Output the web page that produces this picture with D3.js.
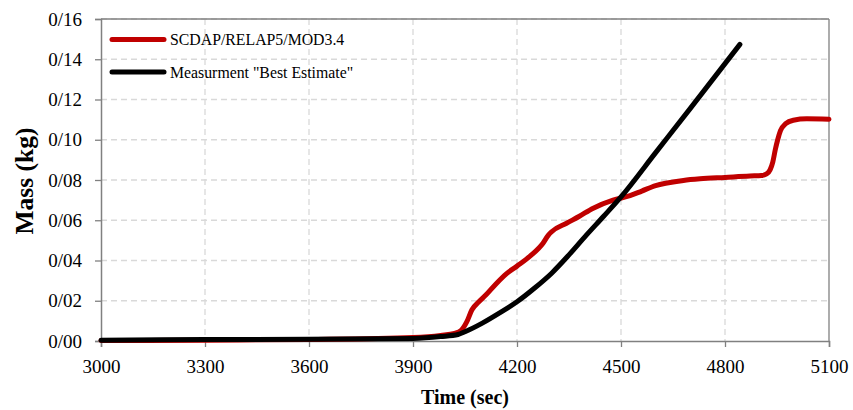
<!DOCTYPE html>
<html><head><meta charset="utf-8">
<script src="https://cdn.jsdelivr.net/npm/d3@7"></script>
<style>body{margin:0;background:#fff}svg{display:block}</style>
</head><body>
<svg id="c" width="853" height="410"></svg>
<script>
const xTicks = [3000, 3300, 3600, 3900, 4200, 4500, 4800, 5100];
const yTicks = [0, 0.02, 0.04, 0.06, 0.08, 0.10, 0.12, 0.14, 0.16];
const seriesNames = ["SCDAP/RELAP5/MOD3.4", "Measurment \"Best Estimate\""];
const seriesColors = ["#c00000", "#000000"];
const redTime = [3000, 3300, 3600, 3900, 3980, 4020, 4040, 4055, 4070, 4090, 4110, 4140, 4170, 4200, 4240, 4275, 4290, 4300, 4343, 4380, 4420, 4477, 4526, 4560, 4600, 4633, 4680, 4728, 4800, 4872, 4905, 4920, 4930, 4938, 4945, 4952, 4960, 4975, 4997, 5036, 5100];
const redMass = [0.0002, 0.0004, 0.0008, 0.0018, 0.0028, 0.0038, 0.0055, 0.0095, 0.0155, 0.0195, 0.0228, 0.0285, 0.0335, 0.0372, 0.0425, 0.0486, 0.0525, 0.0543, 0.0585, 0.0620, 0.0660, 0.0700, 0.0722, 0.0745, 0.0772, 0.0785, 0.0798, 0.0806, 0.0813, 0.0820, 0.0822, 0.0830, 0.0850, 0.0890, 0.0950, 0.1000, 0.1045, 0.1080, 0.1097, 0.1104, 0.1102];
const blackTime = [3000, 3300, 3600, 3900, 3980, 4030, 4050, 4100, 4150, 4200, 4250, 4300, 4350, 4400, 4450, 4500, 4600, 4700, 4843];
const blackMass = [0.0004, 0.0007, 0.0009, 0.0013, 0.0022, 0.0032, 0.0046, 0.0089, 0.0140, 0.0195, 0.0262, 0.0337, 0.0428, 0.0526, 0.0620, 0.0716, 0.0936, 0.1156, 0.1474];

const svg = d3.select("#c");
const L = 101, R = 829, T = 19, B = 341;
const x = d3.scaleLinear().domain([3000, 5100]).range([L, R]);
const y = d3.scaleLinear().domain([0, 0.16]).range([B, T]);
const font = "'Liberation Serif','Times New Roman',serif";
const fmt = d => d3.format(".2f")(d).replace(".", "/");

// grid
const g = svg.append("g");
g.selectAll(".gy").data(yTicks.slice(1)).join("line")
  .attr("x1", L).attr("x2", R).attr("y1", d => y(d)).attr("y2", d => y(d))
  .attr("stroke", "#d9d9d9").attr("stroke-width", 1.3).attr("stroke-dasharray", "6,4");
g.selectAll(".gx").data(xTicks.slice(1, -1)).join("line")
  .attr("y1", T).attr("y2", B).attr("x1", d => x(d)).attr("x2", d => x(d))
  .attr("stroke", "#d9d9d9").attr("stroke-width", 1.3).attr("stroke-dasharray", "6,4");
// border top/right
svg.append("line").attr("x1", L).attr("x2", R).attr("y1", T).attr("y2", T).attr("stroke", "#808080").attr("stroke-width", 1.3);
svg.append("line").attr("x1", R).attr("x2", R).attr("y1", T).attr("y2", B).attr("stroke", "#808080").attr("stroke-width", 1.3);

// axes
const xa = svg.append("g").attr("transform", `translate(0,${B})`)
  .call(d3.axisBottom(x).tickValues(xTicks).tickSize(6).tickPadding(10).tickFormat(d3.format("d")));
const ya = svg.append("g").attr("transform", `translate(${L},0)`)
  .call(d3.axisLeft(y).tickValues(yTicks).tickSize(6).tickPadding(13).tickFormat(fmt));
[xa, ya].forEach(a => {
  a.select(".domain").attr("stroke", "#808080").attr("stroke-width", 1.5);
  a.selectAll(".tick line").attr("stroke", "#808080").attr("stroke-width", 1.3);
  a.selectAll("text").attr("font-family", font).attr("font-size", 19).attr("fill", "#000");
});
xa.selectAll("text").attr("dy", "0.85em");

// lines
const line = d3.line().x(d => x(d[0])).y(d => y(d[1])).curve(d3.curveMonotoneX);
const redData = redTime.map((t, i) => [t, redMass[i]]);
const blackData = blackTime.map((t, i) => [t, blackMass[i]]);
svg.append("path").datum(redData).attr("d", line).attr("fill", "none")
  .attr("stroke", seriesColors[0]).attr("stroke-width", 5).attr("stroke-linecap", "round").attr("stroke-linejoin", "round");
svg.append("path").datum(blackData).attr("d", line).attr("fill", "none")
  .attr("stroke", seriesColors[1]).attr("stroke-width", 5).attr("stroke-linecap", "round").attr("stroke-linejoin", "round");

// legend
const lg = svg.append("g");
seriesNames.forEach((n, i) => {
  const yy = 39.5 + i * 32.5;
  lg.append("line").attr("x1", 112).attr("x2", 164).attr("y1", yy).attr("y2", yy)
    .attr("stroke", seriesColors[i]).attr("stroke-width", 5).attr("stroke-linecap", "round");
  lg.append("text").attr("x", 170).attr("y", yy + 5.5).text(n)
    .attr("font-family", font).attr("font-size", 15.8).attr("fill", "#000");
});

// titles
svg.append("text").attr("x", 465).attr("y", 404).attr("text-anchor", "middle")
  .attr("font-family", font).attr("font-weight", "bold").attr("font-size", 20).text("Time (sec)");
svg.append("text").attr("transform", "translate(33,181) rotate(-90)").attr("text-anchor", "middle")
  .attr("font-family", font).attr("font-weight", "bold").attr("font-size", 25.5).text("Mass (kg)");
</script>
</body></html>
